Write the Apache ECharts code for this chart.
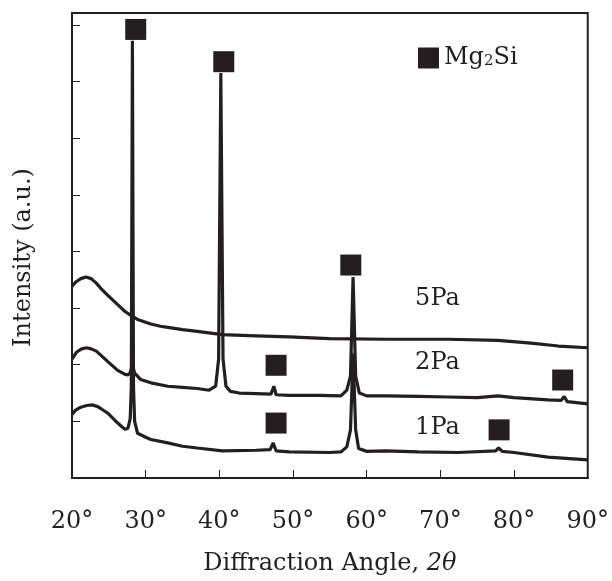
<!DOCTYPE html>
<html>
<head>
<meta charset="utf-8">
<script src="https://cdn.jsdelivr.net/npm/echarts@6/dist/echarts.min.js"></script>
<style>
  html, body { margin: 0; padding: 0; background: #fff; }
  #chart { width: 612px; height: 581px; }
</style>
</head>
<body>
<div id="chart"></div>
<script>
// angle (deg), intensity (a.u.)
var pa5 = [[20.0,3.38],[20.5,3.46],[21.2,3.52],[21.9,3.55],[22.6,3.52],[23.3,3.44],[23.9,3.35],[24.9,3.22],[26.2,3.06],[27.2,2.94],[28.0,2.87],[28.9,2.80],[29.8,2.76],[30.7,2.72],[32.0,2.68],[33.0,2.66],[35.0,2.62],[37.0,2.59],[40.4,2.53],[45.0,2.51],[49.5,2.49],[54.9,2.46],[62.6,2.45],[71.1,2.45],[77.8,2.43],[82.3,2.38],[86.0,2.33],[90.0,2.30]];
var pa2 = [[20.0,2.10],[20.6,2.22],[21.3,2.28],[22.0,2.30],[22.6,2.28],[23.3,2.24],[23.9,2.17],[24.9,2.05],[26.2,1.90],[27.2,1.83],[27.6,1.82],[27.9,1.86],[28.2,2.0],[28.5,1.85],[29.3,1.74],[30.7,1.68],[33.0,1.62],[35.0,1.60],[37.0,1.58],[38.6,1.55],[39.5,1.62],[39.9,2.1],[40.2,7.15],[40.5,2.1],[40.9,1.62],[41.5,1.53],[42.7,1.50],[45.0,1.49],[47.0,1.48],[47.4,1.62],[47.7,1.47],[49.5,1.46],[53.5,1.46],[56.5,1.45],[57.3,1.55],[57.8,1.8],[58.15,3.55],[58.5,1.8],[59.0,1.5],[60.0,1.45],[62.6,1.45],[67.0,1.44],[71.1,1.43],[75.0,1.42],[77.8,1.45],[80.0,1.42],[84.6,1.38],[86.4,1.37],[86.8,1.44],[87.2,1.35],[88.5,1.33],[90.0,1.31]];
var pa1 = [[20.0,1.12],[20.5,1.20],[21.2,1.25],[22.0,1.28],[22.8,1.29],[23.5,1.26],[24.2,1.20],[24.9,1.14],[25.6,1.05],[26.2,0.97],[26.8,0.90],[27.2,0.86],[27.6,0.88],[27.9,1.05],[28.05,1.6],[28.2,7.72],[28.35,1.6],[28.5,1.0],[28.9,0.79],[30.0,0.72],[30.7,0.68],[33.0,0.62],[35.0,0.56],[37.0,0.53],[40.4,0.48],[45.0,0.49],[46.9,0.50],[47.3,0.62],[47.7,0.48],[49.5,0.46],[54.9,0.45],[56.5,0.46],[57.3,0.55],[57.8,0.85],[58.15,2.2],[58.5,0.85],[58.9,0.52],[60.0,0.47],[62.6,0.48],[67.0,0.46],[72.4,0.45],[77.5,0.48],[77.9,0.53],[78.4,0.47],[80.0,0.45],[84.6,0.37],[90.0,0.32]];
// Mg2Si peak markers
var mg2si = [[28.65,7.92],[40.6,7.35],[57.84,3.76],[47.7,1.99],[47.7,0.97],[77.97,0.85],[86.6,1.73]];
// curve labels
var curveLabels = ['5Pa', '2Pa', '1Pa'];
var labelPos = [[69.6,3.17],[69.6,2.03],[69.6,0.88]];
var xTicks = [20, 30, 40, 50, 60, 70, 80, 90];

var ink = '#231f20';
var serif = 'DejaVu Serif';

var chart = echarts.init(document.getElementById('chart'));

function lineSeries(name, data, idx) {
  return {
    name: name,
    type: 'line',
    data: data,
    symbol: 'none',
    lineStyle: { color: ink, width: 3.2 },
    itemStyle: { color: ink },
    z: 2,
    markPoint: {
      symbol: 'circle',
      symbolSize: 1,
      itemStyle: { color: 'transparent' },
      label: {
        show: true, position: 'inside', formatter: name,
        color: ink, fontFamily: serif, fontSize: 24
      },
      data: [{ coord: labelPos[idx] }]
    }
  };
}

chart.setOption({
  animation: false,
  grid: {
    left: 72, right: 22, top: 13, bottom: 103,
    show: true, borderColor: ink, borderWidth: 2
  },
  legend: {
    left: 413, top: 41,
    itemWidth: 21, itemHeight: 21, itemGap: 5,
    data: [{ name: 'Mg2Si', icon: 'rect', itemStyle: { color: ink, opacity: 1 } }],
    formatter: 'Mg{s|2}Si',
    textStyle: {
      color: ink, fontFamily: serif, fontSize: 24,
      rich: { s: { fontSize: 15, fontFamily: serif, color: ink, padding: [6, 0, 0, 0] } }
    }
  },
  xAxis: {
    type: 'value',
    min: 20, max: 90, interval: 10,
    name: 'Diffraction Angle, {i|2θ}',
    nameLocation: 'middle', nameGap: 74,
    nameTextStyle: {
      color: ink, fontFamily: serif, fontSize: 24,
      rich: { i: { fontStyle: 'italic', fontFamily: serif, fontSize: 24, color: ink } }
    },
    axisLine: { show: true, lineStyle: { color: ink, width: 2 } },
    axisTick: { show: true, inside: true, length: 8, lineStyle: { color: ink, width: 1 } },
    axisLabel: {
      margin: 32, color: ink, fontFamily: serif, fontSize: 24,
      formatter: function (v) { return xTicks.indexOf(v) >= 0 ? v + '°' : ''; }
    },
    splitLine: { show: false }
  },
  yAxis: {
    type: 'value',
    min: 0, max: 8.21, interval: 1,
    name: 'Intensity (a.u.)',
    nameLocation: 'middle', nameGap: 36,
    nameTextStyle: { color: ink, fontFamily: serif, fontSize: 24, padding: [0, 24, 0, 0] },
    axisLine: { show: true, lineStyle: { color: ink, width: 2 } },
    axisTick: { show: true, inside: true, length: 8, lineStyle: { color: ink, width: 1 } },
    axisLabel: { show: false },
    splitLine: { show: false }
  },
  series: [
    lineSeries(curveLabels[0], pa5, 0),
    lineSeries(curveLabels[1], pa2, 1),
    lineSeries(curveLabels[2], pa1, 2),
    {
      name: 'Mg2Si',
      type: 'scatter',
      data: mg2si,
      symbol: 'rect',
      symbolSize: 21,
      itemStyle: { color: ink, opacity: 1 },
      z: 5
    }
  ]
});
</script>
</body>
</html>
